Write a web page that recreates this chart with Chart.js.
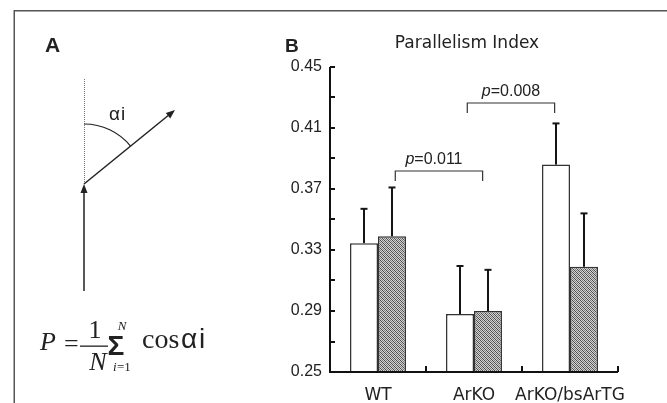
<!DOCTYPE html>
<html>
<head>
<meta charset="utf-8">
<script src="https://cdn.jsdelivr.net/npm/chart.js@4"></script>
<style>
html, body { margin: 0; padding: 0; background: #fff; }
canvas { display: block; }
</style>
</head>
<body>
<canvas id="mycanvas" width="667" height="403"></canvas>
<script>
// data
var categories = ['WT', 'ArKO', 'ArKO/bsArTG'];
var openMean = [0.3345, 0.288, 0.386];
var openSD = [0.0225, 0.0315, 0.027];
var hatchMean = [0.339, 0.290, 0.319];
var hatchSD = [0.032, 0.027, 0.035];
var yMin = 0.25, yMax = 0.45, yStep = 0.02;
var pLabels = ['0.011', '0.008'];
var pFrom = [0.18, 0.93];   // category index where bracket starts
var pTo = [1.09, 1.84];
var pTop = [0.3818, 0.4264];
var pFoot = [0.3752, 0.4198];

var ink = '#222';

function makeHatch() {
    var c = document.createElement('canvas');
    c.width = 4; c.height = 4;
    var g = c.getContext('2d');
    for (var y = 0; y < 4; y++) {
        for (var x = 0; x < 4; x++) {
            var col = (x + y) % 2 ? '#d4d4d4' : '#7a7a7a';
            if ((x - y + 4) % 4 === 0) col = '#4a4a4a';
            g.fillStyle = col;
            g.fillRect(x, y, 1, 1);
        }
    }
    return g.createPattern(c, 'repeat');
}

function line(ctx, x1, y1, x2, y2) {
    ctx.beginPath();
    ctx.moveTo(x1, y1);
    ctx.lineTo(x2, y2);
    ctx.stroke();
}

function arrowHead(ctx, x, y, ang) {
    var len = 9, hw = 3.5;
    ctx.save();
    ctx.translate(x, y);
    ctx.rotate(ang);
    ctx.beginPath();
    ctx.moveTo(0, 0);
    ctx.lineTo(-len, -hw);
    ctx.lineTo(-len, hw);
    ctx.closePath();
    ctx.fill();
    ctx.restore();
}

function catX(xs, v) {
    var i = Math.floor(v), f = v - i;
    var a = xs.getPixelForValue(i), b = xs.getPixelForValue(i + 1);
    return a + f * (b - a);
}

var decor = {
    id: 'decor',
    afterDraw: function(chart) {
        var ctx = chart.ctx;
        var xs = chart.scales.x, ys = chart.scales.y;
        var area = chart.chartArea;
        ctx.save();

        // frame
        ctx.fillStyle = '#555';
        ctx.fillRect(14, 10, 653, 1.5);
        ctx.fillRect(13.5, 10, 1.5, 393);

        // error bars
        ctx.strokeStyle = '#151515';
        ctx.lineWidth = 2;
        [[openMean, openSD], [hatchMean, hatchSD]].forEach(function(s, d) {
            var meta = chart.getDatasetMeta(d);
            meta.data.forEach(function(bar, j) {
                var top = ys.getPixelForValue(s[0][j] + s[1][j]);
                line(ctx, bar.x, bar.y, bar.x, top);
                line(ctx, bar.x - 3.5, top, bar.x + 3.5, top);
            });
        });

        // axes
        ctx.strokeStyle = '#111';
        ctx.lineWidth = 2;
        line(ctx, area.left, area.top, area.left, area.bottom + 1);
        line(ctx, area.left - 1, area.bottom, area.right, area.bottom);
        for (var v = yMin; v <= yMax + 1e-9; v += yStep) {
            var py = Math.round(ys.getPixelForValue(v));
            line(ctx, area.left, py, area.left + 5, py);
        }
        for (var j = 0; j < categories.length; j++) {
            var px = j < categories.length - 1 ? (xs.getPixelForValue(j) + xs.getPixelForValue(j + 1)) / 2 : area.right;
            px = Math.round(px);
            line(ctx, px, area.bottom, px, area.bottom - 6);
        }

        // p-value brackets
        ctx.strokeStyle = '#333';
        ctx.lineWidth = 1.2;
        ctx.fillStyle = ink;
        ctx.textBaseline = 'alphabetic';
        for (var k = 0; k < pLabels.length; k++) {
            var x1 = catX(xs, pFrom[k]), x2 = catX(xs, pTo[k]);
            var yt = ys.getPixelForValue(pTop[k]), yf = ys.getPixelForValue(pFoot[k]);
            ctx.beginPath();
            ctx.moveTo(x1, yf);
            ctx.lineTo(x1, yt);
            ctx.lineTo(x2, yt);
            ctx.lineTo(x2, yf);
            ctx.stroke();
            ctx.font = 'italic 16px "Liberation Sans"';
            var wp = ctx.measureText('p').width;
            ctx.font = '16px "Liberation Sans"';
            var wr = ctx.measureText('=' + pLabels[k]).width;
            var sx = (x1 + x2) / 2 - (wp + wr) / 2 - (k === 0 ? 5 : 0);
            ctx.textAlign = 'left';
            ctx.font = 'italic 16px "Liberation Sans"';
            ctx.fillText('p', sx, yt - 7);
            ctx.font = '16px "Liberation Sans"';
            ctx.fillText('=' + pLabels[k], sx + wp, yt - 7);
        }

        // panel B title and letter
        ctx.textAlign = 'center';
        ctx.font = '17px "DejaVu Sans"';
        ctx.fillText('Parallelism Index', 467, 48);
        ctx.textAlign = 'left';
        ctx.font = 'bold 19px "Liberation Sans"';
        ctx.fillText('B', 285, 52);

        // panel A
        ctx.font = 'bold 21px "Liberation Sans"';
        ctx.fillText('A', 45, 52);

        ctx.strokeStyle = '#777';
        ctx.lineWidth = 1;
        ctx.setLineDash([1, 1]);
        line(ctx, 84.5, 79, 84.5, 184);
        ctx.setLineDash([]);

        ctx.strokeStyle = '#222';
        ctx.fillStyle = '#222';
        ctx.lineWidth = 1.5;
        line(ctx, 84, 291, 84, 190);
        arrowHead(ctx, 84, 184, -Math.PI / 2);
        var ang = Math.atan2(110 - 184, 175 - 84);
        line(ctx, 84, 184, 175 - 6 * Math.cos(ang), 110 - 6 * Math.sin(ang));
        arrowHead(ctx, 175, 110, ang);
        ctx.lineWidth = 1.2;
        ctx.beginPath();
        ctx.arc(84, 184, 60, -Math.PI / 2, ang);
        ctx.stroke();

        ctx.fillStyle = ink;
        ctx.font = '19px "Liberation Sans"';
        ctx.fillText('\u03b1', 109, 120);
        ctx.fillText('i', 121, 120);

        // formula
        ctx.font = 'italic 26px "Liberation Serif"';
        ctx.fillText('P', 40, 350);
        ctx.font = '26px "Liberation Serif"';
        ctx.fillText('=', 64, 352);
        ctx.fillRect(80, 345.5, 28, 1.3);
        ctx.textAlign = 'center';
        ctx.fillText('1', 95, 338);
        ctx.font = 'italic 26px "Liberation Serif"';
        ctx.fillText('N', 98, 370);
        ctx.font = 'bold 28px "Liberation Sans"';
        ctx.fillText('\u03a3', 116, 355);
        ctx.font = 'italic 13px "Liberation Serif"';
        ctx.fillText('N', 122, 330);
        ctx.textAlign = 'left';
        ctx.fillText('i', 113, 371);
        ctx.font = '13px "Liberation Serif"';
        ctx.fillText('=1', 117, 371);
        ctx.font = '28px "Liberation Serif"';
        ctx.fillText('cos', 142, 348);
        ctx.font = '28px "Liberation Sans"';
        ctx.fillText('\u03b1', 181, 348);
        ctx.fillText('i', 199, 348);

        ctx.restore();
    }
};

var hatch = makeHatch();

var chartdata = {
    labels: categories,
    datasets: [
        {
            label: 'open',
            data: openMean,
            backgroundColor: '#fff',
            borderColor: '#333',
            borderWidth: 1.5
        },
        {
            label: 'hatched',
            data: hatchMean,
            backgroundColor: hatch,
            borderColor: '#333',
            borderWidth: 1.5
        }
    ]
};

var ctx = document.getElementById('mycanvas');
var barGraph = new Chart(ctx, {
    type: 'bar',
    data: chartdata,
    plugins: [decor],
    options: {
        responsive: false,
        animation: false,
        devicePixelRatio: 1,
        layout: { padding: { left: 270, right: 49, top: 67, bottom: 0 } },
        datasets: { bar: { categoryPercentage: 0.583, barPercentage: 1, borderSkipped: 'bottom' } },
        plugins: { legend: { display: false }, tooltip: { enabled: false } },
        scales: {
            x: {
                grid: { display: false, drawTicks: false },
                border: { display: false },
                ticks: {
                    color: ink,
                    font: { family: 'DejaVu Sans', size: 17 },
                    padding: 13,
                    maxRotation: 0,
                    minRotation: 0,
                    autoSkip: false
                },
                afterFit: function(s) { s.height = 31; }
            },
            y: {
                min: yMin,
                max: yMax,
                grid: { display: false, drawTicks: false },
                border: { display: false },
                ticks: {
                    stepSize: yStep,
                    color: ink,
                    padding: 8,
                    font: { family: 'Liberation Sans', size: 16 },
                    autoSkip: false,
                    callback: function(v, i) { return i % 2 === 0 ? v.toFixed(2) : ''; }
                },
                afterFit: function(s) { s.width = 60; }
            }
        }
    }
});
</script>
</body>
</html>
